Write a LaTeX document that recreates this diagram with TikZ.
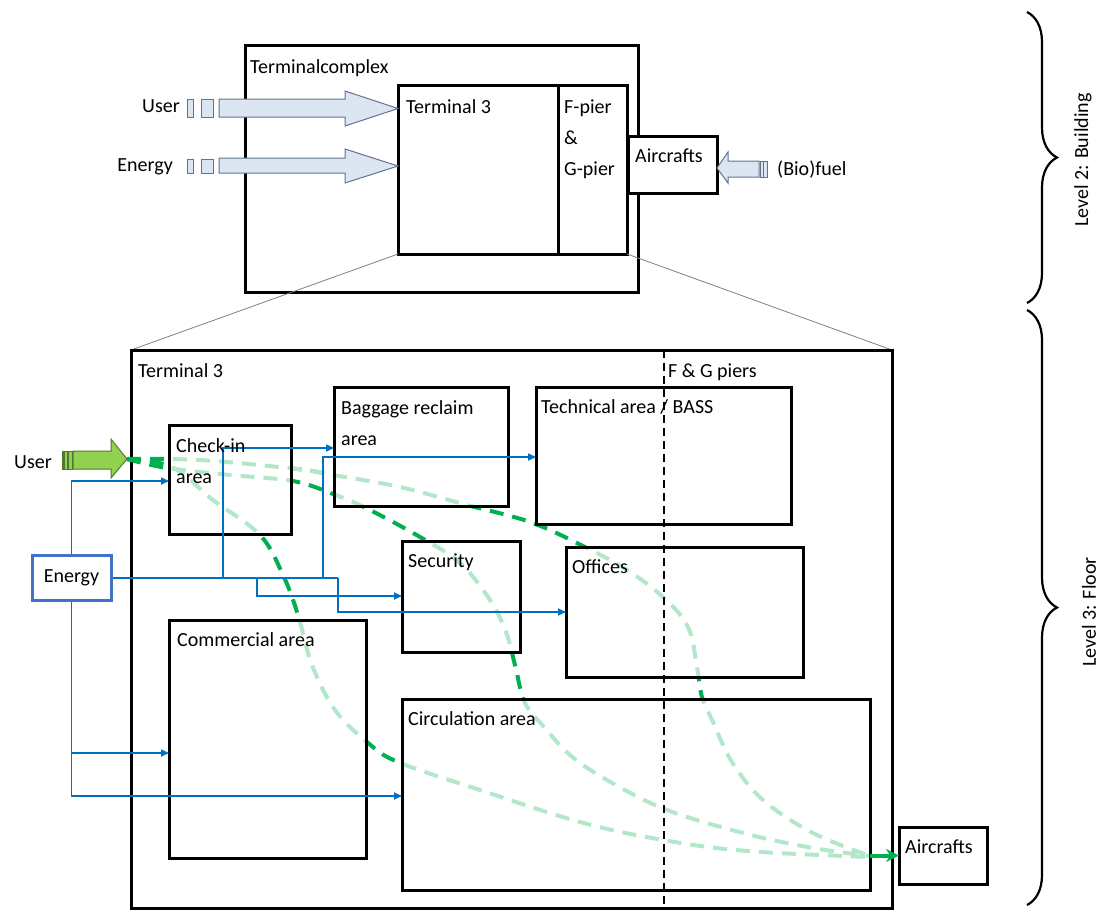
\documentclass[tikz,border=0pt]{standalone}
\usepackage{fontspec}
\setmainfont{Carlito}
\usetikzlibrary{arrows.meta,decorations.pathreplacing,calc}
\definecolor{dgreen}{RGB}{0,176,80}
\definecolor{ublue}{RGB}{0,112,192}
\definecolor{eblue}{RGB}{68,114,196}
\definecolor{afill}{RGB}{220,230,242}
\definecolor{aline}{RGB}{100,115,140}
\definecolor{gfill}{RGB}{146,208,80}
\definecolor{gline}{RGB}{80,120,50}
\begin{document}
\begin{tikzpicture}[x=1pt,y=-1pt,
  box/.style={draw=black, line width=3pt, fill=white, fill opacity=0.7, text opacity=1, anchor=north west, inner sep=0, outer sep=0},
  frame/.style={draw=black, line width=3pt, anchor=north west, inner sep=0, outer sep=0},
  lbl/.style={anchor=base west, inner sep=0, font=\fontsize{20}{24}\selectfont},
  gpath/.style={draw=dgreen, line width=4pt, dash pattern=on 14pt off 9pt},
  bl/.style={draw=ublue, line width=1.6pt},
  bla/.style={draw=ublue, line width=1.6pt, -{Triangle[length=8pt,width=7pt]}},
  barrow/.style={draw=aline, fill=afill, line width=1pt},
  zline/.style={draw=gray, line width=0.8pt}
]
\useasboundingbox (0,0) rectangle (1100,911);

% ---------------- Level 2: building ----------------
\node[frame, minimum width=393, minimum height=247] (tc) at (245,45) {};
\node[frame, minimum width=160, minimum height=169] (t3) at (398,85) {};
\node[frame, minimum width=69, minimum height=169] (fp) at (558,85) {};
\node[frame, fill=white, minimum width=89, minimum height=57] (air1) at (628,136) {};

\node[lbl] (tclbl) at (250,73) {Terminalcomplex};
\node[lbl] (t3lbl) at (406,113) {Terminal 3};
\node[lbl] (fp1) at (564,113) {F-pier};
\node[lbl] (fp2) at (564,144) {\&};
\node[lbl] (fp3) at (564,175) {G-pier};
\node[lbl] (air1lbl) at (635,162) {Aircrafts};

% block arrows into the terminal
\node[lbl, anchor=base east] (userT) at (180,112) {User};
\draw[barrow] (187,99) rectangle (193,117);
\draw[barrow] (201,99) rectangle (213,117);
\draw[barrow] (219,99) -- (345,99) -- (345,91) -- (t3.west |- 0,108.5) -- (345,126) -- (345,117) -- (219,117) -- cycle;

\node[lbl, anchor=base east] (energyT) at (173,171) {Energy};
\draw[barrow] (187,159) rectangle (193,173);
\draw[barrow] (201,159) rectangle (213,173);
\draw[barrow] (219,158) -- (345,158) -- (345,149) -- (t3.west |- 0,166) -- (345,183) -- (345,173) -- (219,173) -- cycle;

% biofuel arrow
\node[lbl] (fuel) at (777,175) {(Bio)fuel};
\draw[barrow] (760,161) rectangle (767,177);
\draw[aline, line width=1pt] (763.5,161) -- (763.5,177);
\draw[barrow] (759,161) -- (728,161) -- (728,152) -- (air1.east |- 0,168) -- (728,183) -- (728,177) -- (759,177) -- cycle;

% zoom lines
\draw[zline] (t3.south west) -- (131,350);
\draw[zline] (fp.south east) -- (892,350);

% ---------------- Level 3: floor ----------------
\node[frame, minimum width=761, minimum height=558] (floor) at (131,350) {};

% passenger routes (drawn below the semi-transparent boxes)
\def\routeA{(127,459) (200,460) (297,469) (333,475) (400,487) (467,505) (530,522) (583,546) (627,570) (663,597) (688,627) (697,667) (702,697) (713,722) (732,762) (763,800) (813,833) (870,856)}
\draw[gpath] plot[smooth, tension=0.6] coordinates {\routeA};
\begin{scope}
  \clip (293,452) rectangle (333,479);
  \draw[gpath, draw=white, draw opacity=0.7] plot[smooth, tension=0.6] coordinates {\routeA};
\end{scope}
\draw[gpath] plot[smooth, tension=0.6] coordinates {(127,459) (167,468) (230,475) (293,481) (333,494) (368,509) (420,537) (460,563) (490,600) (506,632) (515,665) (525,703) (545,728) (570,755) (607,780) (667,810) (747,834) (813,848) (870,856)};
\draw[gpath] plot[smooth, tension=0.6] coordinates {(127,459) (172,467) (213,500) (260,535) (283,575) (298,615) (312,665) (335,710) (367,742) (398,762) (480,790) (580,822) (663,840) (747,851) (870,857)};

% areas
\node[box, minimum width=122, minimum height=109] (checkin) at (169,425) {};
\node[box, minimum width=174, minimum height=119] (baggage) at (334,387) {};
\node[box, minimum width=255, minimum height=137] (tech) at (536,387) {};
\node[box, minimum width=118, minimum height=111] (security) at (402,541) {};
\node[box, minimum width=237, minimum height=130] (offices) at (566,547) {};
\node[box, minimum width=197, minimum height=238] (commercial) at (169,620) {};
\node[box, minimum width=468, minimum height=191] (circ) at (402,699) {};
\node[frame, fill=white, minimum width=88, minimum height=57] (air2) at (899,827) {};
\node[draw=eblue, line width=3pt, fill=white, minimum width=79, minimum height=45, inner sep=0, font=\fontsize{20}{24}\selectfont] (energy) at (71.5,578) {Energy};

% final step to the aircraft
\draw[draw=dgreen, line width=4pt, -{Stealth[length=13pt,width=13pt]}] (circ.east |- air2.west) -- (air2.west);

% pier boundary
\draw[black, line width=1.5pt, dash pattern=on 8pt off 5pt] (664,350) -- (664,908);

% user arrow
\node[lbl] (userF) at (14,468) {User};
\draw[gline, fill=gfill, line width=1pt] (73,451) -- (111,451) -- (111,439) -- (127,459) -- (111,478) -- (111,469) -- (73,469) -- cycle;
\draw[gline, fill=gfill, line width=1pt] (62,451) rectangle (72,469);
\fill[gline] (62,451) rectangle (64.5,469);
\fill[gline] (66.5,451) rectangle (69,469);

% energy distribution
\coordinate (j1) at (223,578);
\coordinate (j2) at (257,578);
\coordinate (j3) at (323,578);
\coordinate (j4) at (338,578);
\draw[bl] (energy.east) -- (j4);
\draw[bla] (energy.north) |- (checkin.west |- 0,481);
\draw[bla] (energy.south) |- (circ.west |- 0,796);
\draw[bla] (energy.south |- 0,753) -- (commercial.west |- 0,753);
\draw[bla] (j1) |- (baggage.west |- 0,448);
\draw[bla] (j3) |- (tech.west |- 0,457);
\draw[bla] (j2) |- (security.west |- 0,596);
\draw[bla] (j4) |- (offices.west |- 0,612);

% labels
\node[lbl] (floorlbl) at (138,377) {Terminal 3};
\node[lbl] (pierlbl) at (668,377) {F \& G piers};
\node[lbl] (techlbl) at (541,413) {Technical area / BASS};
\node[lbl] (baglbl1) at (341,414) {Baggage reclaim};
\node[lbl] (baglbl2) at (341,445) {area};
\node[lbl] (cilbl1) at (176,452) {Check-in};
\node[lbl] (cilbl2) at (176,483) {area};
\node[lbl] (seclbl) at (408,567) {Security};
\node[lbl] (offlbl) at (572,573) {Offices};
\node[lbl] (comlbl) at (177,646) {Commercial area};
\node[lbl] (circlbl) at (408,725) {Circulation area};
\node[lbl] (air2lbl) at (905,853) {Aircrafts};

% levels
\draw[line width=2.2pt, decorate, decoration={brace, amplitude=30pt}] (1027,12) -- (1027,303);
\draw[line width=2.2pt, decorate, decoration={brace, amplitude=30pt}] (1027,310) -- (1027,905);
\node[rotate=90, inner sep=0, font=\fontsize{20}{24}\selectfont] (lev2) at (1083,160) {Level 2: Building};
\node[rotate=90, inner sep=0, font=\fontsize{20}{24}\selectfont] (lev3) at (1089,612) {Level 3: Floor};
\end{tikzpicture}
\end{document}
